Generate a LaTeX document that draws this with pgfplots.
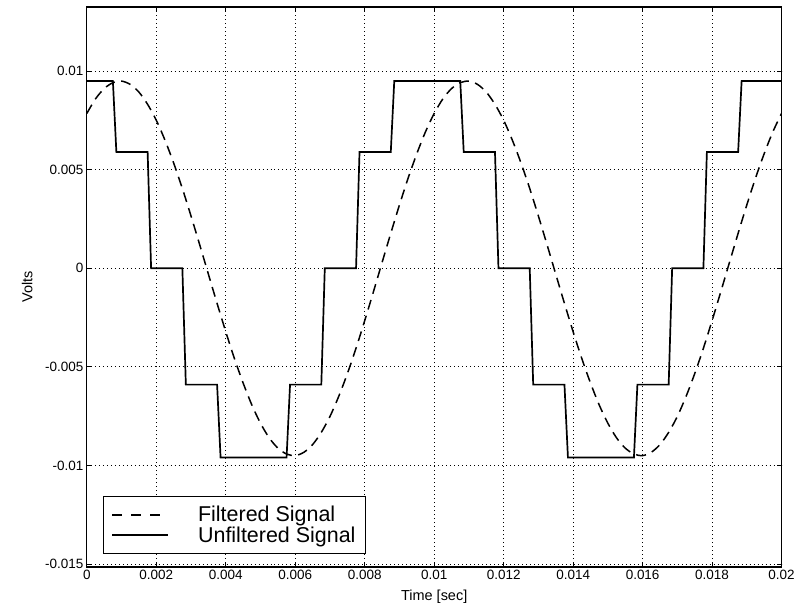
\documentclass[border=0pt]{standalone}
\usepackage{fontspec}
\setmainfont{Liberation Sans}
\usepackage{pgfplots}
\pgfplotsset{compat=1.18}
\pgfplotsset{
  legA/.style={legend image code/.code={\draw[##1, dash pattern=on 10pt off 9pt] (0pt,0pt) -- (48pt,0pt); \path[draw=none,fill=none] (0pt,0pt) -- (84pt,0pt);}},
  legB/.style={legend image code/.code={\draw[##1] (0pt,0pt) -- (56pt,0pt); \path[draw=none,fill=none] (0pt,0pt) -- (84pt,0pt);}},
}
\begin{document}
\begin{tikzpicture}
\begin{axis}[
  name=ax,
  scale only axis,
  width=696pt, height=561pt,
  xmin=0, xmax=0.02, ymin=-0.01515, ymax=0.01326,
  axis line style={line width=1.2pt},
  xtick={0,0.002,0.004,0.006,0.008,0.01,0.012,0.014,0.016,0.018,0.02},
  xticklabels={0,0.002,0.004,0.006,0.008,0.01,0.012,0.014,0.016,0.018,0.02},
  ytick={-0.015,-0.01,-0.005,0,0.005,0.01},
  yticklabels={-0.015,-0.01,-0.005,0,0.005,0.01},
  scaled ticks=false,
  tick align=inside, xtick pos=both, ytick pos=both,
  major tick length=5pt,
  tick style={black, line width=0.9pt},
  ticklabel style={font=\fontsize{13.5}{15}\selectfont},
  /pgf/number format/assume math mode=true,
  grid=major,
  major grid style={black, line width=0.9pt, dash pattern=on 0.9pt off 3.1pt},
  every axis x label/.style={at={(axis description cs:0.5,-0.0535)}, anchor=center, font=\fontsize{14.5}{16}\selectfont},
  every axis y label/.style={at={(axis description cs:-0.086,0.5)}, anchor=center, rotate=90, font=\fontsize{14.5}{16}\selectfont},
  xlabel={Time [sec]},
  ylabel={Volts},
  legend style={at={(axis description cs:0.023,0.023)}, anchor=south west, draw=black, line width=1.2pt, fill=white,
    font=\fontsize{21.5}{20}\selectfont, inner xsep=8pt, inner ysep=8pt, row sep=-1pt},
  legend cell align=left,
]
\addplot[black, line width=1.5pt, dash pattern=on 10pt off 6.5pt, smooth, legA]
coordinates {
(0,0.00786) (0.00025,0.00860) (0.0005,0.00912) (0.00075,0.00942) (0.001,0.00950) (0.00125,0.00933) (0.0015,0.00894) (0.00175,0.00832)
(0.002,0.00751) (0.00225,0.00650) (0.0025,0.00534) (0.00275,0.00405) (0.003,0.00265) (0.00325,0.00119) (0.0035,-0.00030) (0.00375,-0.00178)
(0.004,-0.00322) (0.00425,-0.00458) (0.0045,-0.00582) (0.00475,-0.00693) (0.005,-0.00786) (0.00525,-0.00860) (0.0055,-0.00912) (0.00575,-0.00942)
(0.006,-0.00950) (0.00625,-0.00933) (0.0065,-0.00894) (0.00675,-0.00832) (0.007,-0.00751) (0.00725,-0.00650) (0.0075,-0.00534) (0.00775,-0.00405)
(0.008,-0.00265) (0.00825,-0.00119) (0.0085,0.00030) (0.00875,0.00178) (0.009,0.00322) (0.00925,0.00458) (0.0095,0.00582) (0.00975,0.00693)
(0.01,0.00786) (0.01025,0.00860) (0.0105,0.00912) (0.01075,0.00942) (0.011,0.00950) (0.01125,0.00933) (0.0115,0.00894) (0.01175,0.00832)
(0.012,0.00751) (0.01225,0.00650) (0.0125,0.00534) (0.01275,0.00405) (0.013,0.00265) (0.01325,0.00119) (0.0135,-0.00030) (0.01375,-0.00178)
(0.014,-0.00322) (0.01425,-0.00458) (0.0145,-0.00582) (0.01475,-0.00693) (0.015,-0.00786) (0.01525,-0.00860) (0.0155,-0.00912) (0.01575,-0.00942)
(0.016,-0.00950) (0.01625,-0.00933) (0.0165,-0.00894) (0.01675,-0.00832) (0.017,-0.00751) (0.01725,-0.00650) (0.0175,-0.00534) (0.01775,-0.00405)
(0.018,-0.00265) (0.01825,-0.00119) (0.0185,0.00030) (0.01875,0.00178) (0.019,0.00322) (0.01925,0.00458) (0.0195,0.00582) (0.01975,0.00693)
(0.02,0.00786)
};
\addlegendentry{Filtered Signal}
\addplot[black, line width=1.7pt, legB]
coordinates {
(0,0.0095) (0.00075,0.0095) (0.00085,0.0059) (0.00175,0.0059) (0.00185,0) (0.00275,0) (0.00285,-0.0059) (0.00375,-0.0059)
(0.00385,-0.0096) (0.00575,-0.0096) (0.00585,-0.0059) (0.00675,-0.0059) (0.00685,0) (0.00775,0) (0.00785,0.0059) (0.00875,0.0059)
(0.00885,0.0095) (0.01075,0.0095) (0.01085,0.0059) (0.01175,0.0059) (0.01185,0) (0.01275,0) (0.01285,-0.0059) (0.01375,-0.0059)
(0.01385,-0.0096) (0.01575,-0.0096) (0.01585,-0.0059) (0.01675,-0.0059) (0.01685,0) (0.01775,0) (0.01785,0.0059) (0.01875,0.0059)
(0.01885,0.0095) (0.02,0.0095)
};
\addlegendentry{Unfiltered Signal}
\end{axis}
\path (ax.south west) ++(-87pt,-43pt) coordinate (bbsw);
\path (ax.north east) ++(15pt,7pt) coordinate (bbne);
\path[use as bounding box] (bbsw) rectangle (bbne);
\end{tikzpicture}
\end{document}
